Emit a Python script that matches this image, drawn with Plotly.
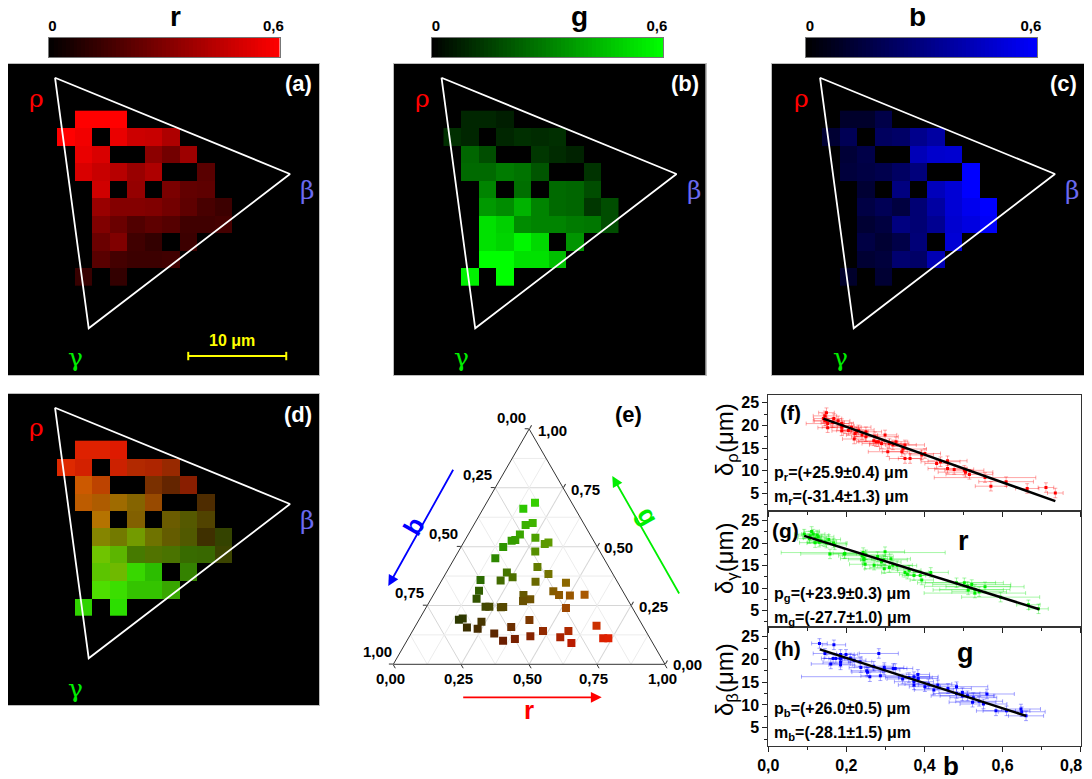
import plotly.graph_objects as go

PAGE_W, PAGE_H = 1092, 779
OFF_X, OFF_Y = 8, 8
W, H = PAGE_W - OFF_X, PAGE_H - OFF_Y

N = None
cell_r = [
 [N,.60,.60,.60,N,N,N,N,N,N],
 [.60,.57,N,.55,.48,.47,.41,N,N,N],
 [N,.55,.51,N,N,.33,.27,.37,N,N],
 [N,.51,.47,.43,.36,.41,N,N,.21,N],
 [N,N,.49,N,.35,N,.29,.23,.22,N],
 [N,N,.36,.31,.31,.30,.27,.22,.17,.14],
 [N,N,.30,.25,.19,.22,.20,.15,.15,.16],
 [N,N,.25,.30,.15,.12,N,.14,N,N],
 [N,N,.21,.16,.14,.14,.15,N,N,N],
 [N,.13,N,.12,N,N,N,N,N,N]]
cell_g = [
 [N,.09,.09,.07,N,N,N,N,N,N],
 [.11,.09,N,.09,.11,.10,.11,N,N,N],
 [N,.24,.18,N,N,.13,.10,.08,N,N],
 [N,.25,.25,.29,.27,.20,N,N,.12,N],
 [N,N,.31,N,.26,N,.25,.24,.18,N],
 [N,N,.36,.33,.42,.31,.25,.24,.13,.18],
 [N,N,.53,.49,.33,.31,.31,.29,.28,.18],
 [N,N,.53,.50,.58,.51,N,.35,N,N],
 [N,N,.60,.60,.53,.53,.45,N,N,N],
 [N,.57,N,.60,N,N,N,N,N,N]]
cell_b = [
 [N,.10,.10,.17,N,N,N,N,N,N],
 [.12,.20,N,.22,.24,.33,.38,N,N,N],
 [N,.13,.17,N,N,.43,.48,.49,N,N],
 [N,.14,.16,.18,.23,.29,N,N,.60,N],
 [N,N,.12,N,.30,N,.44,.50,.60,N],
 [N,N,.16,.20,.15,.27,.38,.50,.56,.60],
 [N,N,.12,.15,.30,.27,.34,.49,.53,.58],
 [N,N,.16,.12,.17,.28,N,.50,N,N],
 [N,N,.12,.14,.26,.24,.42,N,N,N],
 [N,.10,N,.12,N,N,N,N,N,N]]

tri_x = [-0.614, 12.814, 1.312, -0.614]
tri_y = [-2.384, 3.119, 11.936, -2.384]
scale_x = [7.0, 12.6]
scale_y = [13.52, 13.52]

ter_r = [.178,.148,.213,.191,.190,.185,.173,.155,.254,.312,.302,.283,.150,.324,.379,.223,.254,.217,.142,.348,.462,.159,.167,.434,.463,.504,.556,.332,.366,.343,.217,.231,.275,.283,.516,.407,.158,.147,.234,.193,.235,.355,.666,.306,.354,.394,.445,.480,.574,.557,.610,.717,.736]
ter_g = [.687,.661,.600,.592,.552,.528,.525,.499,.538,.518,.511,.479,.451,.413,.384,.390,.370,.356,.358,.351,.347,.313,.279,.310,.294,.292,.296,.294,.276,.269,.245,.245,.242,.243,.239,.188,.195,.189,.181,.156,.151,.158,.164,.131,.100,.107,.119,.142,.141,.115,.091,.111,.111]
ter_b = [.135,.191,.187,.217,.258,.287,.302,.346,.208,.170,.187,.238,.399,.263,.237,.387,.376,.427,.500,.301,.191,.528,.554,.256,.243,.204,.148,.374,.358,.388,.538,.524,.483,.474,.245,.405,.647,.664,.585,.651,.614,.487,.170,.563,.546,.499,.436,.378,.285,.328,.299,.172,.153]

f_x = [.149,.145,.141,.148,.152,.152,.168,.179,.188,.188,.188,.213,.222,.220,.226,.231,.250,.250,.273,.276,.282,.299,.306,.319,.327,.342,.350,.350,.363,.393,.401,.431,.441,.459,.459,.476,.502,.515,.555,.570,.609,.663,.711,.735,.165,.205,.240,.290,.310,.345,.505,.270,.190,.145]
f_y = [22.8,22.1,21.5,21.0,20.4,19.5,21.5,21.0,20.4,19.6,18.8,19.6,18.2,17.0,18.6,19.0,18.6,17.5,17.5,16.4,16.4,17.9,14.2,15.7,16.4,14.2,15.7,12.7,12.7,13.5,13.8,11.6,12.0,12.2,10.5,10.3,10.1,9.2,8.5,6.6,7.6,6.1,6.3,5.1,20.6,18.9,17.9,16.0,16.0,14.8,9.7,16.6,19.9,21.0]
f_xe = [.02,.03,.025,.03,.055,.025,.02,.03,.03,.05,.025,.05,.03,.03,.03,.04,.04,.03,.06,.05,.05,.03,.05,.06,.03,.05,.05,.04,.03,.03,.04,.03,.05,.05,.05,.05,.05,.06,.13,.04,.07,.03,.02,.02,.03,.03,.04,.05,.05,.06,.07,.04,.03,.03]
f_line_x = [.141,.735]
f_line_y = [21.5,3.3]

g_x = [.092,.111,.107,.120,.128,.120,.145,.149,.167,.158,.196,.243,.245,.245,.248,.271,.280,.299,.296,.297,.314,.319,.356,.361,.373,.389,.393,.416,.482,.502,.521,.555,.512,.529,.529,.595,.666,.692,.135,.155,.170,.195,.250,.105,.115,.130,.240,.310,.330,.350,.510,.540,.125,.290]
g_y = [22.0,22.6,21.6,21.1,21.4,20.1,20.3,20.0,20.0,17.6,17.7,17.9,16.6,16.3,15.3,15.1,17.0,18.1,16.3,14.3,16.5,15.1,13.1,14.0,12.8,12.8,11.8,13.5,11.2,11.2,10.8,10.3,9.6,9.7,8.9,8.0,6.3,5.4,20.5,20.8,19.6,17.6,17.4,21.0,22.0,20.2,17.2,14.6,15.0,13.5,10.4,9.2,21.8,15.8]
g_xe = [.025,.02,.03,.03,.04,.04,.03,.05,.035,.075,.03,.21,.06,.04,.04,.03,.04,.05,.06,.05,.05,.05,.02,.03,.03,.03,.03,.045,.1,.1,.1,.1,.09,.09,.13,.1,.03,.025,.03,.03,.03,.04,.06,.03,.03,.03,.06,.05,.05,.06,.11,.07,.03,.05]
g_line_x = [.092,.694]
g_line_y = [21.6,5.3]

h_x = [.131,.168,.145,.166,.173,.185,.185,.185,.185,.199,.235,.237,.252,.254,.260,.283,.287,.297,.297,.325,.344,.373,.373,.373,.383,.384,.401,.424,.434,.482,.482,.497,.497,.525,.523,.551,.560,.583,.610,.647,.649,.660,.210,.160,.220,.270,.320,.360,.410,.460,.510,.540]
h_y = [23.5,23.2,21.3,20.2,20.2,21.1,20.2,19.4,18.8,21.1,19.5,18.2,17.5,17.2,16.2,21.3,16.4,18.2,17.7,18.0,15.7,16.2,15.1,14.4,16.7,15.8,14.0,13.3,14.4,14.0,12.5,12.7,12.0,11.6,10.6,10.2,12.4,8.7,8.7,9.1,8.5,7.6,20.3,19.0,19.8,18.5,18.0,16.0,14.6,13.6,12.0,10.8]
h_xe = [.02,.03,.03,.03,.03,.035,.03,.045,.03,.03,.03,.03,.04,.04,.175,.05,.05,.05,.04,.03,.04,.04,.05,.04,.03,.05,.04,.05,.05,.08,.06,.06,.08,.06,.06,.06,.07,.05,.06,.05,.06,.045,.03,.05,.03,.05,.05,.06,.06,.06,.07,.06]
h_line_x = [.132,.66]
h_line_y = [22.2,7.6]

y_err = 1.05
ax_ticks = [0,.2,.4,.6,.8]
ax_ticktext = ['0,0','0,2','0,4','0,6','']
ax_last_label = '0,8'
ter_major = [0,.25,.5,.75,1]
ter_text = ['0,00','0,25','0,50','0,75','1,00']
ter_grid_minor = [.125,.375,.625,.875]
cbar_levels = [i * .6 / 60 for i in range(61)]

SANS = 'Liberation Sans'
SERIF = 'DejaVu Serif'
CELL = 17.5

def px(x): return (x - OFF_X) / W
def py(y): return 1 - (y - OFF_Y) / H

fig = go.Figure()
annos, shapes = [], []

def text(x, y, s, size, color='black', family=SANS, bold=True, rot=0):
    annos.append(dict(xref='paper', yref='paper', x=px(x), y=py(y), text=s, showarrow=False,
                      xanchor='center', yanchor='middle', textangle=rot,
                      font=dict(family=family, size=size, color=color, weight=700 if bold else 400)))

panels = [
 ('x','y','',7,64,cell_r,'#ff0000','(a)','r',175,48.5,'8'),
 ('x2','y2','2',393.5,64,cell_g,'#00ff00','(b)','g',579,432,'9'),
 ('x3','y3','3',772,64,cell_b,'#0000ff','(c)','b',917,806,'10'),
]

def base_axes(n, x0, y0, w=312, h=311):
    left = max(x0, OFF_X)
    xmin = -0.5 - 50 / CELL + (left - x0) / CELL
    ymin = -0.5 - 46.7 / CELL
    fig.layout['xaxis' + n] = dict(domain=[px(left), px(x0 + w)], range=[xmin, xmin + (x0 + w - left) / CELL],
        showgrid=False, zeroline=False, showticklabels=False, ticks='', showline=True, linecolor='#bdbdbd', linewidth=1,
        mirror=True, anchor='y' + n, constrain='range')
    fig.layout['yaxis' + n] = dict(domain=[py(y0 + h), py(y0)], range=[ymin + h / CELL, ymin], showgrid=False,
        zeroline=False, showticklabels=False, ticks='', showline=True, linecolor='#bdbdbd', linewidth=1, mirror=True,
        anchor='x' + n, constrain='range')
    shapes.append(dict(type='rect', xref=f'x{n} domain', yref=f'y{n} domain', x0=0, x1=1, y0=0, y1=1,
                       fillcolor='black', line_width=0, layer='below'))

def overlay(xa, ya, x0, y0, label):
    fig.add_trace(go.Scatter(x=tri_x, y=tri_y, xaxis=xa, yaxis=ya, mode='lines',
                             line=dict(color='white', width=1.8), hoverinfo='skip', showlegend=False))
    text(x0 + 29, y0 + 34, 'ρ', 25, '#ff0000', SERIF, False)
    text(x0 + 300, y0 + 126, 'β', 25, '#6a6af0', SERIF, False)
    text(x0 + 68, y0 + 294, 'γ', 25, '#00ee00', SERIF, False)
    text(x0 + 291, y0 + 20, label, 22, 'white')

for xa, ya, n, x0, y0, cells, col, label, name, nx, cbx, cn in panels:
    base_axes(n, x0, y0)
    scale = [[0, 'black'], [1, col]]
    fig.add_trace(go.Heatmap(z=cells, xaxis=xa, yaxis=ya, zmin=0, zmax=0.6, hoverongaps=False,
                             colorscale=scale, showscale=False))
    overlay(xa, ya, x0, y0, label)
    text(nx, 17, name, 28)
    # colour key drawn on its own small axis
    fig.layout['xaxis' + cn] = dict(domain=[px(cbx), px(cbx + 231)], range=[0, .6], side='top', anchor='y' + cn,
        tickmode='array', tickvals=[.01, .584], ticktext=['0', '0,6'], ticks='', ticklen=0, showline=True, linecolor='#777',
        mirror=True, linewidth=1, showgrid=False, zeroline=False,
        tickfont=dict(family=SANS, size=15, color='black', weight=700))
    fig.layout['yaxis' + cn] = dict(domain=[py(57), py(38)], range=[-.5, .5], anchor='x' + cn, showticklabels=False,
        ticks='', showline=True, linecolor='#777', mirror=True, linewidth=1, showgrid=False, zeroline=False)
    fig.add_trace(go.Heatmap(z=[cbar_levels], x=cbar_levels, y=[0], xaxis='x' + cn, yaxis='y' + cn, zmin=0, zmax=.6,
                             colorscale=scale, showscale=False, hoverinfo='skip'))

# panel (d): composite
base_axes('4', 7, 394)
comp = [[[int(round((cell_r[i][j] or 0) / .6 * 222)), int(round((cell_g[i][j] or 0) / .6 * 222)), 0]
         for j in range(10)] for i in range(10)]
fig.add_trace(go.Image(z=comp, x0=0, y0=0, dx=1, dy=1, xaxis='x4', yaxis='y4', hoverinfo='skip'))
overlay('x4', 'y4', 7, 394, '(d)')

# scale bar on (a)
fig.add_trace(go.Scatter(x=scale_x, y=scale_y, xaxis='x', yaxis='y', mode='lines+markers',
                         line=dict(color='#ffff00', width=2),
                         marker=dict(symbol='line-ns', size=6, line=dict(color='#ffff00', width=2)),
                         hoverinfo='skip', showlegend=False))
text(232, 340, '10 μm', 16, '#ffff00')

# ternary (e)
for v in ter_grid_minor:
    for a, b, c in (([v, v], [1 - v, 0], [0, 1 - v]), ([1 - v, 0], [v, v], [0, 1 - v]), ([1 - v, 0], [0, 1 - v], [v, v])):
        fig.add_trace(go.Scatterternary(a=a, b=b, c=c, mode='lines', subplot='ternary', hoverinfo='skip', showlegend=False,
                                        line=dict(color='#ececec', width=1)))
ter_cols = [f'rgb({min(255, int(r * 305))},{min(255, int(g * 300))},0)' for r, g in zip(ter_r, ter_g)]
fig.add_trace(go.Scatterternary(a=ter_g, b=ter_b, c=ter_r, mode='markers', subplot='ternary',
    marker=dict(symbol='square', size=8, color=ter_cols, line_width=0), showlegend=False))
def ter_axis():
    return dict(title=dict(text=''), tickmode='array', tickvals=ter_major, ticktext=ter_text, ticks='outside', ticklen=4,
                tickcolor='#333', linecolor='#333', linewidth=1, gridcolor='#d6d6d6', gridwidth=1, showticklabels=False,
                showgrid=True, min=0)
fig.update_layout(ternary=dict(sum=1, bgcolor='white', domain=dict(x=[px(393.3), px(665)], y=[py(664.3), py(429)]),
    aaxis=ter_axis(), baxis=ter_axis(), caxis=ter_axis()))
# edge labels placed as the reference places them
ter_left = [(511, 417), (477, 475), (443, 533), (409, 592), (377, 651)]
ter_bottom = [(390, 678), (458, 678), (527, 678), (593, 678), (662, 678)]
ter_right = [(687, 664), (653, 606), (618, 547), (585, 489), (552, 430)]
for edge in (ter_left, ter_bottom, ter_right):
    for (lx, ly), s in zip(edge, ter_text):
        text(lx, ly, s, 15)
text(628, 414, '(e)', 22)
def arrow(x0, y0, x1, y1, col):
    annos.append(dict(xref='paper', yref='paper', x=px(x1), y=py(y1), ax=x0 - x1, ay=y0 - y1, text='',
                      showarrow=True, arrowhead=2, arrowsize=1.2, arrowwidth=1.8, arrowcolor=col))
arrow(461.7, 697.3, 601.7, 697.3, '#ff0000')
arrow(680, 595, 612.3, 476, '#00ee00')
arrow(454, 468.3, 388.3, 586, '#0000ff')
text(529, 710, 'r', 26, '#ff0000')
text(648, 516, 'g', 26, '#00ee00', rot=60)
text(414, 526, 'b', 26, '#0000ff', rot=-60)

# right panels
right = [
 ('5', 395, 510.7, [1.2, 26.7], f_x, f_y, f_xe, f_line_x, f_line_y, '#ff0000', 'rgba(255,0,0,.35)'),
 ('6', 510.7, 627.3, [1.3, 27.2], g_x, g_y, g_xe, g_line_x, g_line_y, '#00ee00', 'rgba(0,230,0,.35)'),
 ('7', 627.3, 745.7, [1.04, 27.05], h_x, h_y, h_xe, h_line_x, h_line_y, '#0000ff', 'rgba(0,0,255,.35)'),
]
for n, top, bot, yr, xs, ys, xe, lx, ly, c, ce in right:
    last = n == '7'
    xa = dict(domain=[px(768.3), px(1080.7)], range=[0, .8], anchor='y' + n, showgrid=False, zeroline=False,
        tickmode='array', tickvals=ax_ticks, ticks='outside', ticklen=5,
        tickcolor='#222', minor=dict(dtick=.1, ticks='outside', ticklen=3, tickcolor='#222'),
        showline=True, linecolor='#333', linewidth=1, mirror=True, showticklabels=last,
        tickfont=dict(family=SANS, size=16, color='black', weight=700))
    if last:
        xa['ticktext'] = ax_ticktext
    fig.layout['xaxis' + n] = xa
    fig.layout['yaxis' + n] = dict(domain=[py(bot), py(top)], range=yr, anchor='x' + n, showgrid=False, zeroline=False,
        tickmode='array', tickvals=[5, 10, 15, 20, 25], ticks='outside', ticklen=5, tickcolor='#222',
        minor=dict(dtick=2.5, ticks='outside', ticklen=3, tickcolor='#222'),
        showline=True, linecolor='#333', linewidth=1, mirror=True,
        tickfont=dict(family=SANS, size=16, color='black', weight=700))
    fig.add_trace(go.Scatter(x=xs, y=ys, xaxis='x' + n, yaxis='y' + n, mode='markers', showlegend=False,
        marker=dict(color=c, size=3, symbol='square'),
        error_x=dict(type='data', array=xe, color=ce, thickness=1, width=2),
        error_y=dict(type='constant', value=y_err, color=ce, thickness=1, width=2)))
    fig.add_trace(go.Scatter(x=lx, y=ly, xaxis='x' + n, yaxis='y' + n, mode='lines', showlegend=False,
                             line=dict(color='black', width=2.5)))

def ltext(y, s):
    annos.append(dict(xref='paper', yref='paper', x=px(772), y=py(y), text=s, showarrow=False, xanchor='left', yanchor='middle',
                      font=dict(family=SANS, size=16, color='black', weight=700)))
ltext(474, 'p<sub>r</sub>=(+25.9±0.4) μm')
ltext(498, 'm<sub>r</sub>=(-31.4±1.3) μm')
ltext(594, 'p<sub>g</sub>=(+23.9±0.3) μm')
ltext(618, 'm<sub>g</sub>=(-27.7±1.0) μm')
ltext(709, 'p<sub>b</sub>=(+26.0±0.5) μm')
ltext(733, 'm<sub>b</sub>=(-28.1±1.5) μm')
text(790, 412, '(f)', 21)
text(785, 530, '(g)', 21)
text(787, 648, '(h)', 21)
text(963, 541, 'r', 27)
text(965, 653, 'g', 27)
text(951, 766, 'b', 26)
text(1071, 765, ax_last_label, 16)
text(726, 440, 'δ<sub>ρ</sub>(μm)', 24, bold=False, rot=-90)
text(726, 558, 'δ<sub>γ</sub>(μm)', 24, bold=False, rot=-90)
text(726, 680, 'δ<sub>β</sub>(μm)', 24, bold=False, rot=-90)

fig.update_layout(width=W, height=H, margin=dict(l=0, r=0, t=0, b=0, pad=0, autoexpand=False), autosize=False,
                  paper_bgcolor='white', plot_bgcolor='white', annotations=annos, shapes=shapes, showlegend=False)
fig.write_html("out.html")
